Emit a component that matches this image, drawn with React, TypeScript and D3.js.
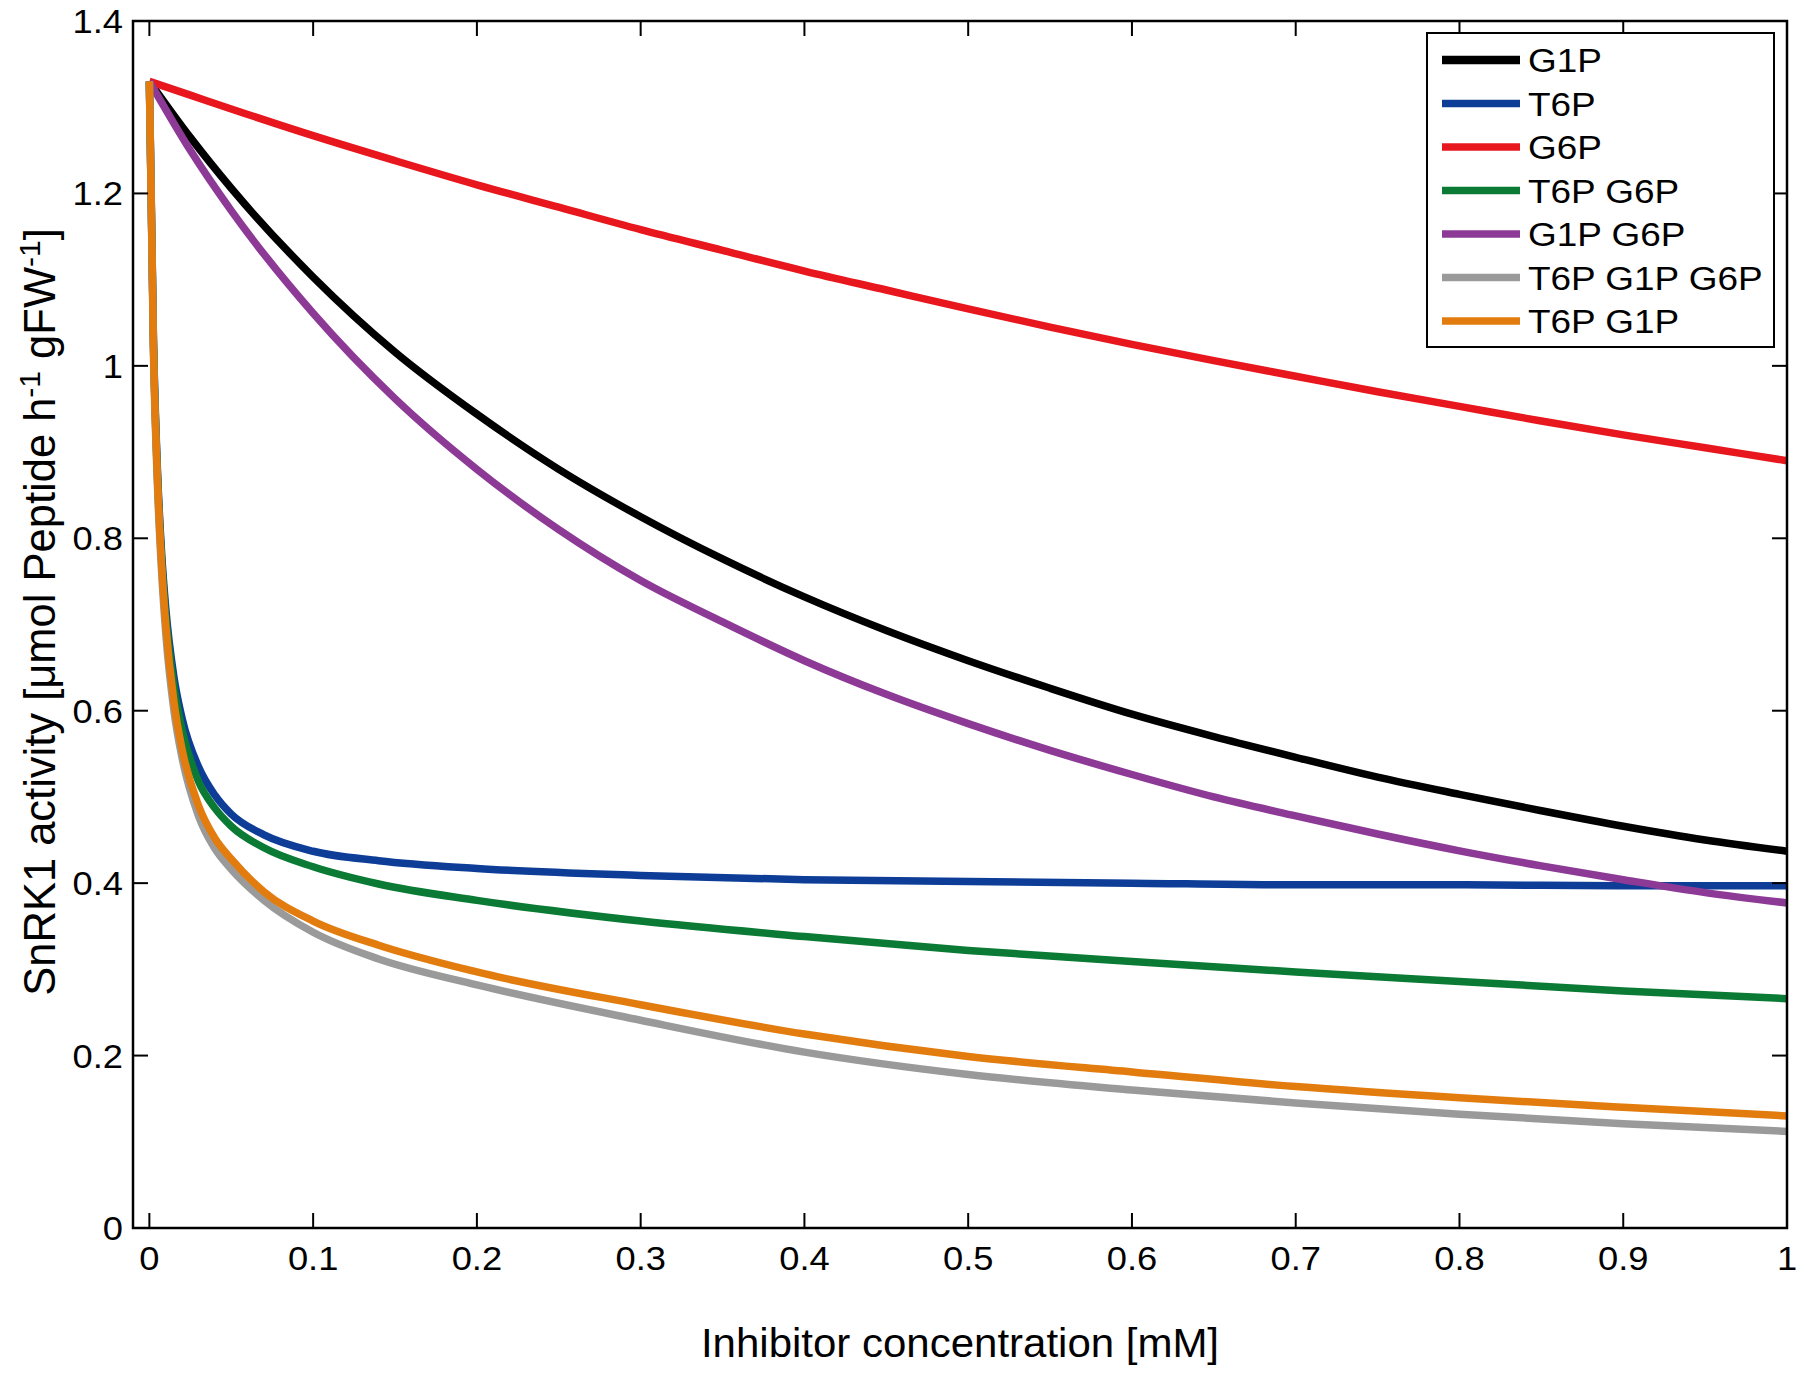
import React, { useEffect, useRef } from 'react'
import * as d3 from 'd3'

// x grids the curves were read on (mM)
const xFine = [0, 0.0025, 0.005, 0.0075, 0.01, 0.015, 0.02, 0.03, 0.04, 0.05, 0.07, 0.1, 0.14, 0.2, 0.3, 0.4, 0.5, 0.6, 0.7, 0.8, 0.9, 1.0]
const xCoarse = [0, 0.025, 0.05, 0.1, 0.15, 0.2, 0.25, 0.3, 0.35, 0.4, 0.45, 0.5, 0.55, 0.6, 0.65, 0.7, 0.75, 0.8, 0.85, 0.9, 0.95, 1.0]

// SnRK1 activity values
const g1p = [1.33, 1.265, 1.206, 1.103, 1.016, 0.944, 0.88, 0.825, 0.776, 0.732, 0.693, 0.658, 0.626, 0.596, 0.57, 0.546, 0.523, 0.503, 0.484, 0.466, 0.45, 0.437]
const t6p = [1.33, 1.03, 0.876, 0.782, 0.719, 0.639, 0.591, 0.535, 0.502, 0.48, 0.456, 0.437, 0.426, 0.417, 0.409, 0.404, 0.402, 0.4, 0.398, 0.398, 0.397, 0.397]
const g6p = [1.33, 1.314, 1.298, 1.267, 1.238, 1.21, 1.184, 1.158, 1.134, 1.11, 1.088, 1.066, 1.045, 1.025, 1.006, 0.988, 0.97, 0.953, 0.936, 0.92, 0.905, 0.89]
const t6pG6p = [1.33, 1.025, 0.87, 0.775, 0.71, 0.628, 0.578, 0.518, 0.487, 0.466, 0.441, 0.419, 0.399, 0.38, 0.356, 0.338, 0.322, 0.309, 0.297, 0.286, 0.275, 0.266]
const g1pG6p = [1.33, 1.25, 1.18, 1.061, 0.962, 0.88, 0.81, 0.751, 0.703, 0.658, 0.619, 0.585, 0.554, 0.526, 0.5, 0.478, 0.457, 0.4375, 0.42, 0.404, 0.389, 0.377]
const t6pG1pG6p = [1.33, 1.015, 0.858, 0.76, 0.69, 0.6, 0.545, 0.478, 0.44, 0.416, 0.38, 0.343, 0.312, 0.282, 0.241, 0.204, 0.178, 0.16, 0.145, 0.132, 0.121, 0.112]
const t6pG1p = [1.33, 1.02, 0.865, 0.768, 0.7, 0.61, 0.555, 0.49, 0.452, 0.428, 0.39, 0.356, 0.328, 0.297, 0.259, 0.225, 0.199, 0.181, 0.164, 0.151, 0.14, 0.13]

const seriesNames = ['G1P', 'T6P', 'G6P', 'T6P G6P', 'G1P G6P', 'T6P G1P G6P', 'T6P G1P']
const seriesColors = ['#000000', '#0d3d97', '#e8161d', '#0a7a34', '#8d3a96', '#9a9a9a', '#e27c0e']

const xTicks = [0, 0.1, 0.2, 0.3, 0.4, 0.5, 0.6, 0.7, 0.8, 0.9, 1]
const xTickLabels = ['0', '0.1', '0.2', '0.3', '0.4', '0.5', '0.6', '0.7', '0.8', '0.9', '1']
const yTicks = [0, 0.2, 0.4, 0.6, 0.8, 1, 1.2, 1.4]
const yTickLabels = ['0', '0.2', '0.4', '0.6', '0.8', '1', '1.2', '1.4']

const WIDTH = 1800
const HEIGHT = 1375
const margin = { top: 21, right: 13, bottom: 147, left: 133 }
const FONT = 'Liberation Sans, Arial, Helvetica, sans-serif'
const TICK = 15

const App: React.FC = () => {
  const svgRef = useRef<SVGSVGElement>(null)

  useEffect(() => {
    const svg = d3.select(svgRef.current)
    svg.selectAll('*').remove()

    const x = d3.scaleLinear().domain([-0.01, 1]).range([margin.left, WIDTH - margin.right])
    const y = d3.scaleLinear().domain([0, 1.4]).range([HEIGHT - margin.bottom, margin.top])
    const [x0, x1] = x.range()
    const [y0, y1] = y.range()

    const series = [
      { xs: xCoarse, ys: g1p },
      { xs: xFine, ys: t6p },
      { xs: xCoarse, ys: g6p },
      { xs: xFine, ys: t6pG6p },
      { xs: xCoarse, ys: g1pG6p },
      { xs: xFine, ys: t6pG1pG6p },
      { xs: xFine, ys: t6pG1p },
    ].map((s, i) => ({
      name: seriesNames[i],
      color: seriesColors[i],
      points: s.xs.map((v, j) => [v, s.ys[j]] as [number, number]),
    }))

    const line = d3
      .line<[number, number]>()
      .x((d) => x(d[0]))
      .y((d) => y(d[1]))
      .curve(d3.curveMonotoneX)

    svg
      .append('g')
      .attr('class', 'lines')
      .selectAll('path')
      .data(series)
      .enter()
      .append('path')
      .attr('d', (d) => line(d.points) as string)
      .attr('fill', 'none')
      .attr('stroke', (d) => d.color)
      .attr('stroke-width', 7.5)
      .attr('stroke-linejoin', 'round')

    // inward ticks on all four sides
    const ticks = svg.append('g').attr('stroke', '#000').attr('stroke-width', 2)
    xTicks.forEach((t) => {
      ticks.append('line').attr('x1', x(t)).attr('x2', x(t)).attr('y1', y0).attr('y2', y0 - TICK)
      ticks.append('line').attr('x1', x(t)).attr('x2', x(t)).attr('y1', y1).attr('y2', y1 + TICK)
    })
    yTicks.forEach((t) => {
      ticks.append('line').attr('x1', x0).attr('x2', x0 + TICK).attr('y1', y(t)).attr('y2', y(t))
      ticks.append('line').attr('x1', x1).attr('x2', x1 - TICK).attr('y1', y(t)).attr('y2', y(t))
    })

    svg
      .append('rect')
      .attr('x', x0)
      .attr('y', y1)
      .attr('width', x1 - x0)
      .attr('height', y0 - y1)
      .attr('fill', 'none')
      .attr('stroke', '#000')
      .attr('stroke-width', 2.5)

    const labels = svg.append('g').attr('font-family', FONT).attr('font-size', 33).attr('fill', '#000')
    xTicks.forEach((t, i) => {
      labels
        .append('text')
        .attr('transform', `translate(${x(t)},${y0 + 42}) scale(1.1,1)`)
        .attr('text-anchor', 'middle')
        .text(xTickLabels[i])
    })
    yTicks.forEach((t, i) => {
      labels
        .append('text')
        .attr('transform', `translate(${x0 - 10},${y(t) + 12}) scale(1.1,1)`)
        .attr('text-anchor', 'end')
        .text(yTickLabels[i])
    })

    // axis titles
    svg
      .append('text')
      .attr('transform', `translate(${(x0 + x1) / 2},1357) scale(1.05,1)`)
      .attr('text-anchor', 'middle')
      .attr('font-family', FONT)
      .attr('font-size', 40)
      .text('Inhibitor concentration [mM]')

    const yTitle = svg
      .append('text')
      .attr('transform', `translate(55,612) rotate(-90)`)
      .attr('text-anchor', 'middle')
      .attr('font-family', FONT)
      .attr('font-size', 43.5)
    yTitle.append('tspan').text('SnRK1 activity [μmol Peptide h')
    yTitle.append('tspan').attr('dy', -15).attr('font-size', 30).text('-1')
    yTitle.append('tspan').attr('dy', 15).text(' gFW')
    yTitle.append('tspan').attr('dy', -15).attr('font-size', 30).text('-1')
    yTitle.append('tspan').attr('dy', 15).text(']')

    // legend
    const legend = svg.append('g').attr('class', 'legend')
    legend
      .append('rect')
      .attr('x', 1427)
      .attr('y', 33)
      .attr('width', 347)
      .attr('height', 314)
      .attr('fill', '#fff')
      .attr('stroke', '#000')
      .attr('stroke-width', 2)
    series.forEach((s, i) => {
      const ry = 60 + i * 43.5
      legend
        .append('line')
        .attr('x1', 1442)
        .attr('x2', 1520)
        .attr('y1', ry)
        .attr('y2', ry)
        .attr('stroke', s.color)
        .attr('stroke-width', i === 0 ? 8.5 : 7.5)
      legend
        .append('text')
        .attr('transform', `translate(1528,${ry + 12}) scale(1.12,1)`)
        .attr('font-family', FONT)
        .attr('font-size', 33)
        .text(s.name)
    })
  }, [])

  return (
    <svg
      ref={svgRef}
      width={WIDTH}
      height={HEIGHT}
      style={{ position: 'absolute', left: 0, top: 0, background: '#fff', display: 'block' }}
    />
  )
}

export default App
